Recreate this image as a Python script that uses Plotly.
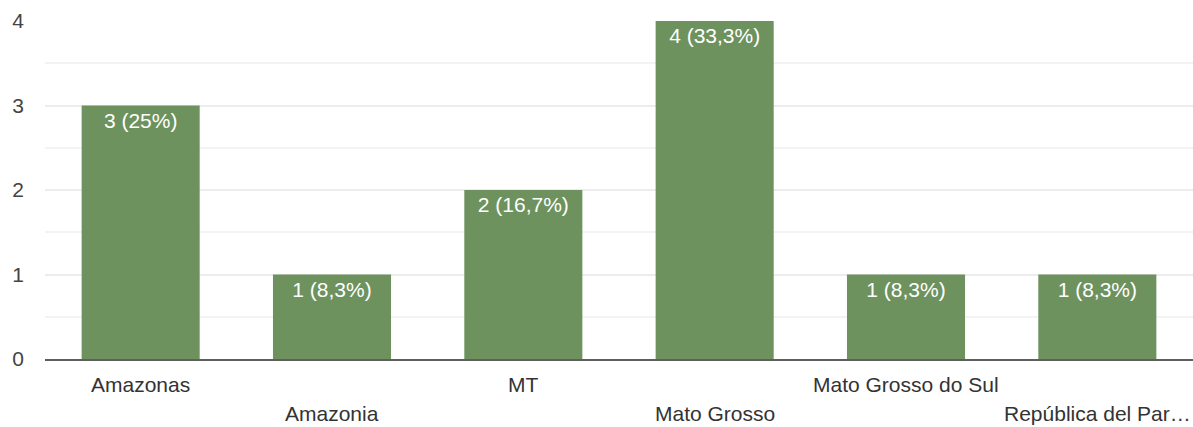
import plotly.graph_objects as go

categories = ["Amazonas", "Amazonia", "MT", "Mato Grosso", "Mato Grosso do Sul", "República del Par…"]
counts = [3, 1, 2, 4, 1, 1]
y_ticks = [0, 1, 2, 3, 4]

total = sum(counts)


def pct_label(n):
    p = round(100 * n / total, 1)
    s = f"{p:.1f}".replace(".", ",")
    if s.endswith(",0"):
        s = s[:-2]
    return f"{n} ({s}%)"


labels = [pct_label(n) for n in counts]

bar_color = "#6d925e"
font_family = "Liberation Sans, Arial, sans-serif"
font_size = 21

fig = go.Figure(
    go.Bar(
        x=categories,
        y=counts,
        marker=dict(color=bar_color, line=dict(width=0)),
        text=labels,
        textposition="inside",
        insidetextanchor="end",
        textangle=0,
        textfont=dict(color="white", size=font_size, family=font_family),
        cliponaxis=False,
    )
)

# staggered category labels below the axis
for i, cat in enumerate(categories):
    fig.add_annotation(
        x=cat, xref="x",
        y=0, yref="paper",
        yanchor="middle",
        yshift=-25 if i % 2 == 0 else -54,
        text=cat,
        showarrow=False,
        font=dict(size=font_size, color="#333333", family=font_family),
    )

fig.update_layout(
    width=1193,
    height=427,
    margin=dict(l=45, r=0, t=21, b=68),
    paper_bgcolor="white",
    plot_bgcolor="white",
    bargap=0.383,
    showlegend=False,
    uniformtext=dict(minsize=font_size, mode="show"),
    xaxis=dict(
        showticklabels=False,
        showgrid=False,
        showline=True,
        linecolor="#5f5f5f",
        linewidth=2,
        zeroline=False,
        fixedrange=True,
    ),
    yaxis=dict(
        range=[0, 4],
        tickvals=y_ticks,
        ticktext=[str(v) for v in y_ticks],
        tickfont=dict(size=font_size, color="#444444", family=font_family),
        ticklabelstandoff=20,
        showgrid=True,
        gridcolor="#ececec",
        gridwidth=1.5,
        zeroline=False,
        showline=False,
        minor=dict(dtick=0.5, tick0=0, showgrid=True, gridcolor="#f3f3f3", gridwidth=1.5),
    ),
)

fig.write_html("out.html")
